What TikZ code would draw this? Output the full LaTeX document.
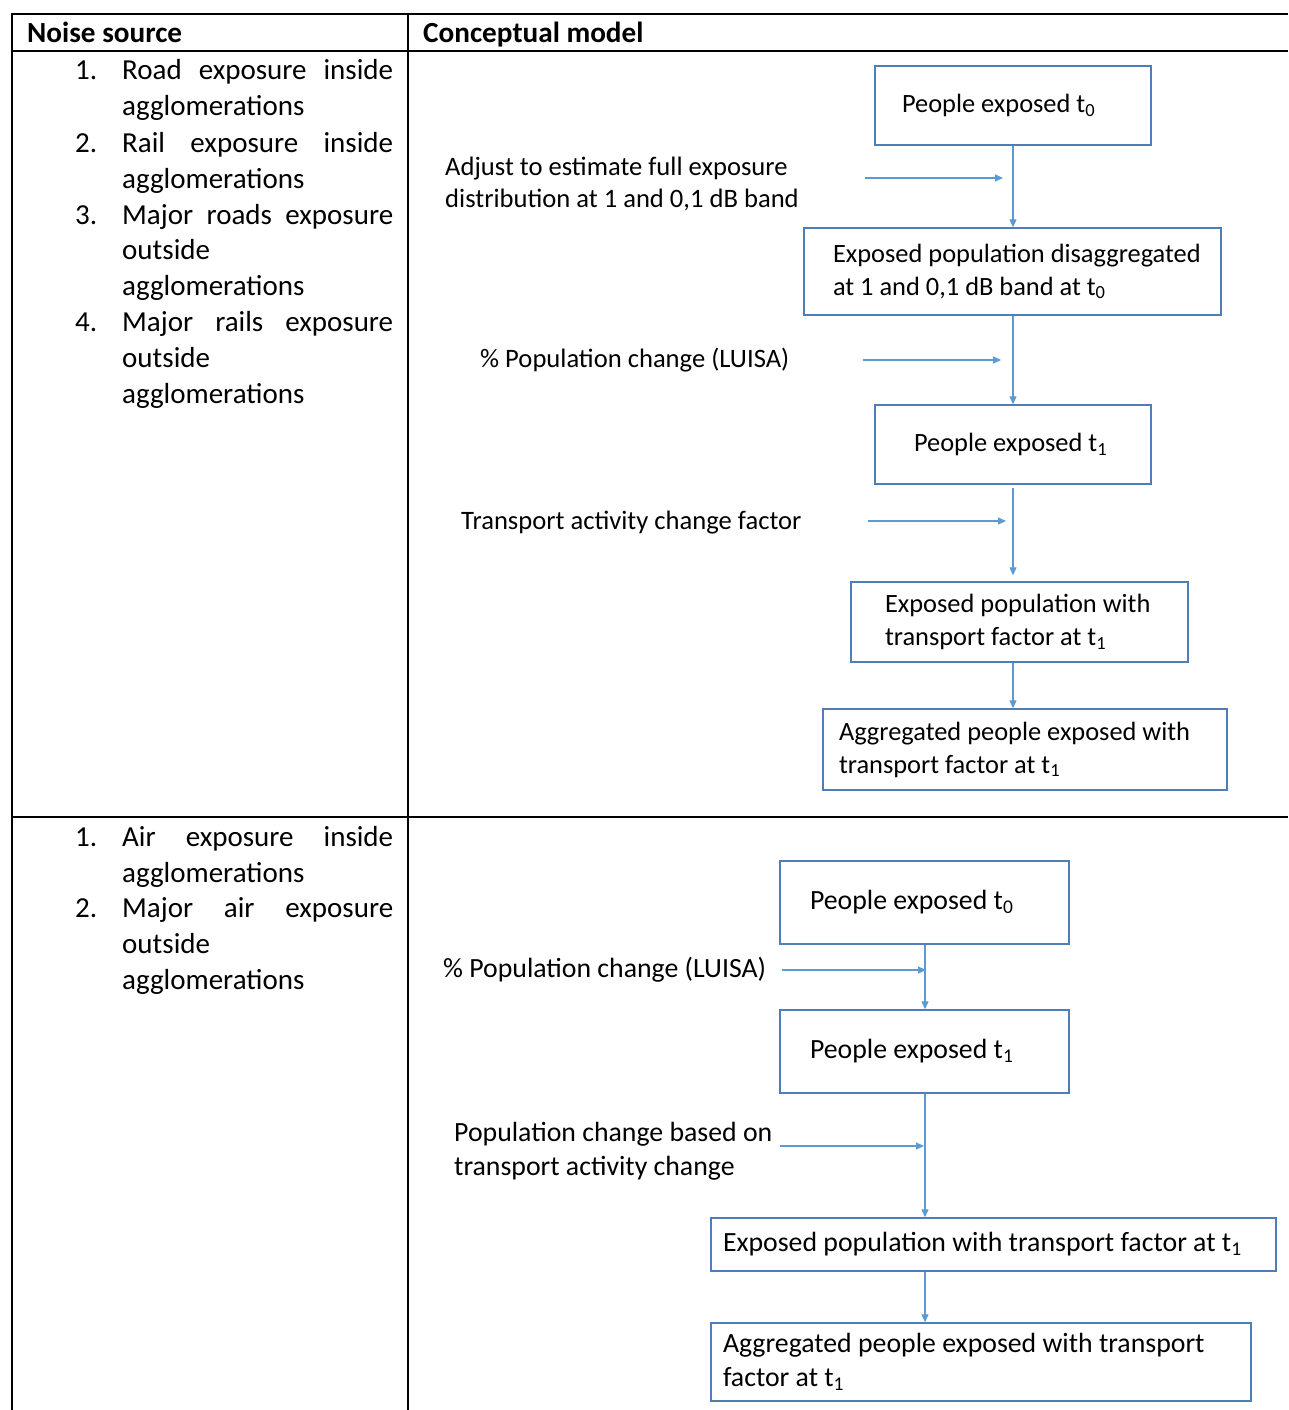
\documentclass[tikz,border=0pt]{standalone}
\usepackage{fontspec}
\setmainfont{Carlito}
\usetikzlibrary{arrows.meta}
\definecolor{boxcol}{HTML}{4F7DB6}
\definecolor{arrcol}{HTML}{5B9BD5}
\tikzset{
  box/.style={draw=boxcol, line width=1.4pt, inner sep=0pt, align=flush left, font=\fontsize{26.4}{33}\selectfont},
  lbl/.style={anchor=base west, inner sep=0pt, align=flush left, font=\fontsize{26.6}{32}\selectfont},
  big/.style={font=\fontsize{27.8}{34}\selectfont},
  item/.style={anchor=base west, inner sep=0pt, font=\fontsize{29}{36}\selectfont},
  head/.style={anchor=base west, inner sep=0pt, font=\fontsize{29.2}{34}\selectfont\bfseries},
  flow/.style={draw=arrcol, line width=1.1pt, -{Triangle[length=8pt,width=7pt]}},
  rule/.style={line width=2pt, black},
  thinrule/.style={line width=1.3pt, black}
}
\newcommand\tsub[1]{t\textsubscript{#1}}
\newcommand\jline[1]{\makebox[271pt][s]{#1}}
\newcommand\ind[1]{\hspace*{#1pt}}
\begin{document}
\begin{tikzpicture}[x=1pt,y=-1pt]
\useasboundingbox (0,0) rectangle (1288,1410);
\fill[white] (0,0) rectangle (1288,1410);
% table
\coordinate (tl) at (12,14);
\coordinate (tr) at (1288,14);
\draw[rule] (tl) -- (tr);
\draw[rule] (12,13) -- (12,1410);
\draw[rule] (408,13) -- (408,1410);
\draw[rule] (12,51) -- (421,51);
\draw[thinrule] (421,51) -- (1288,51);
\draw[rule] (12,817) -- (421,817);
\draw[thinrule] (421,817) -- (1288,817);
\node[head] (h1) at (27,43) {Noise source};
\node[head] (h2) at (423,43) {Conceptual model};
% left column, row 1
\node[item] (n1) at (75,80) {1.};
\node[item] (i1a) at (122,80) {\jline{Road exposure inside}};
\node[item] (i1b) at (122,116) {agglomerations};
\node[item] (n2) at (75,152) {2.};
\node[item] (i2a) at (122,152) {\jline{Rail exposure inside}};
\node[item] (i2b) at (122,188) {agglomerations};
\node[item] (n3) at (75,224) {3.};
\node[item] (i3a) at (122,224) {\jline{Major roads exposure}};
\node[item] (i3b) at (122,259) {outside};
\node[item] (i3c) at (122,295) {agglomerations};
\node[item] (n4) at (75,331) {4.};
\node[item] (i4a) at (122,331) {\jline{Major rails exposure}};
\node[item] (i4b) at (122,367) {outside};
\node[item] (i4c) at (122,403) {agglomerations};
% left column, row 2
\node[item] (m1) at (75,846) {1.};
\node[item] (j1a) at (122,846) {\jline{Air exposure inside}};
\node[item] (j1b) at (122,882) {agglomerations};
\node[item] (m2) at (75,917) {2.};
\node[item] (j2a) at (122,917) {\jline{Major air exposure}};
\node[item] (j2b) at (122,953) {outside};
\node[item] (j2c) at (122,989) {agglomerations};
% top flow
\coordinate (xa) at (1013,0);
\node[box, text width=276pt, minimum height=79pt] (b1) at (1013,105.5) {\ind{27}People exposed \tsub{0}};
\node[box, text width=417pt, minimum height=87pt] (b2) at (1012.5,271.5) {\ind{29}Exposed population disaggregated\\\ind{29}at 1 and 0,1 dB band at \tsub{0}};
\node[box, text width=276pt, minimum height=79pt] (b3) at (1013,444.5) {\ind{39}People exposed \tsub{1}};
\node[box, text width=337pt, minimum height=80pt] (b4) at (1019.5,622) {\ind{34}Exposed population with\\\ind{34}transport factor at \tsub{1}};
\node[box, text width=404pt, minimum height=81pt] (b5) at (1025,749.5) {\ind{16}Aggregated people exposed with\\\ind{16}transport factor at \tsub{1}};
\draw[flow] (b1.south -| xa) -- (b2.north -| xa);
\draw[flow] (b2.south -| xa) -- (b3.north -| xa);
\draw[flow] ([yshift=-3pt]b3.south -| xa) -- ([yshift=6pt]b4.north -| xa);
\draw[flow] (b4.south -| xa) -- (b5.north -| xa);
\node[lbl] (l1) at (445,207) {Adjust to estimate full exposure\\distribution at 1 and 0,1 dB band};
\coordinate (a1s) at (865,178);
\coordinate (a1e) at (1003,178);
\draw[flow] (a1s) -- (a1e);
\node[lbl] (l2) at (480,367) {\% Population change (LUISA)};
\coordinate (a2s) at (863,360);
\coordinate (a2e) at (1001,360);
\draw[flow] (a2s) -- (a2e);
\node[lbl] (l3) at (461,529) {Transport activity change factor};
\coordinate (a3s) at (868,521);
\coordinate (a3e) at (1006,521);
\draw[flow] (a3s) -- (a3e);
% bottom flow
\coordinate (xb) at (925,0);
\node[box, big, text width=289pt, minimum height=83pt] (c1) at (924.5,902.5) {\ind{30}People exposed \tsub{0}};
\node[box, big, text width=289pt, minimum height=83pt] (c2) at (924.5,1051.5) {\ind{30}People exposed \tsub{1}};
\node[box, big, text width=565pt, minimum height=53pt] (c3) at (993.5,1244.5) {\ind{12}Exposed population with transport factor at \tsub{1}};
\node[box, big, text width=540pt, minimum height=78pt] (c4) at (981,1362) {\ind{12}Aggregated people exposed with transport\\\ind{12}factor at \tsub{1}};
\draw[flow] (c1.south -| xb) -- (c2.north -| xb);
\draw[flow] (c2.south -| xb) -- (c3.north -| xb);
\draw[flow] (c3.south -| xb) -- (c4.north -| xb);
\node[lbl, big] (l4) at (443,977) {\% Population change (LUISA)};
\coordinate (a4s) at (782,970);
\coordinate (a4e) at (926,970);
\draw[flow] (a4s) -- (a4e);
\node[lbl, big] (l5) at (454,1175) {Population change based on\\transport activity change};
\coordinate (a5s) at (780,1146);
\coordinate (a5e) at (924,1146);
\draw[flow] (a5s) -- (a5e);
\end{tikzpicture}
\end{document}
